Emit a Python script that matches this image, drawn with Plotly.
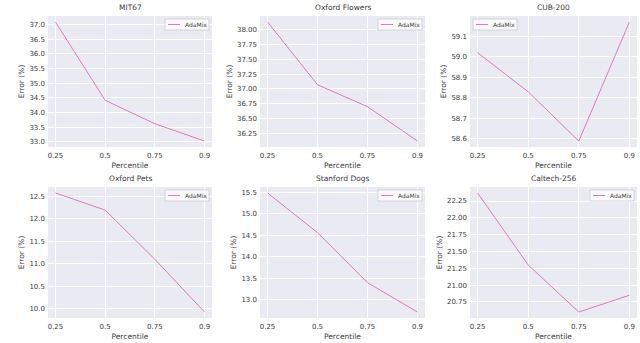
import plotly.graph_objects as go
from plotly.subplots import make_subplots

percentiles = ["0.25", "0.5", "0.75", "0.9"]
titles = ["MIT67", "Oxford Flowers", "CUB-200", "Oxford Pets", "Stanford Dogs", "Caltech-256"]
mit67 = [37.09, 34.42, 33.62, 33.03]
oxford_flowers = [38.13, 37.07, 36.70, 36.12]
cub200 = [59.02, 58.83, 58.59, 59.17]
oxford_pets = [12.57, 12.19, 11.10, 9.93]
stanford_dogs = [15.48, 14.56, 13.40, 12.72]
caltech256 = [22.37, 21.30, 20.60, 20.85]
series = [mit67, oxford_flowers, cub200, oxford_pets, stanford_dogs, caltech256]
series_name = "AdaMix"
dticks = [0.5, 0.25, 0.1, 0.5, 0.5, 0.25]
fmts = [".1f", ".2f", ".1f", ".1f", ".1f", ".2f"]
legend_left = [False, False, True, False, False, False]

W, H = 640, 343
xdom = [(48, 212), (260, 425), (470, 637)]
ydom = [(16, 147), (187, 318)]

fig = make_subplots(rows=2, cols=3)
TEXT = "#3c3c3c"
BG = "#EAEAF2"
COLOR = "#e377c2"

def px(v):
    return v / W

def py(v):
    return 1 - v / H

for i, (t, vals) in enumerate(zip(titles, series)):
    r, c = i // 3, i % 3
    xa = f"x{i+1}" if i else "x"
    ya = f"y{i+1}" if i else "y"
    fig.add_trace(go.Scatter(x=percentiles, y=vals, mode="lines", name=series_name,
                             line=dict(color=COLOR, width=1), showlegend=False),
                  row=r + 1, col=c + 1)
    x0, x1 = px(xdom[c][0]), px(xdom[c][1])
    y0, y1 = py(ydom[r][1]), py(ydom[r][0])
    lo, hi = min(vals), max(vals)
    pad = (hi - lo) * 0.05
    axk = "xaxis" if i == 0 else f"xaxis{i+1}"
    ayk = "yaxis" if i == 0 else f"yaxis{i+1}"
    fig.layout[axk].update(domain=[x0, x1], range=[-0.15, 3.15], type="category",
                           showgrid=True, gridcolor="white", gridwidth=1, zeroline=False,
                           ticks="", tickfont=dict(size=7, color=TEXT), anchor=ya,
                           ticklabelstandoff=3,
                           title=dict(text="Percentile", font=dict(size=7.5, color=TEXT), standoff=3))
    fig.layout[ayk].update(domain=[y0, y1], range=[lo - pad, hi + pad], dtick=dticks[i],
                           tickformat=fmts[i], showgrid=True, gridcolor="white", gridwidth=1,
                           zeroline=False, ticks="", tickfont=dict(size=7, color=TEXT), anchor=xa,
                           ticklabelstandoff=2,
                           title=dict(text="Error (%)", font=dict(size=7.5, color=TEXT), standoff=3))
    fig.add_annotation(text=t, x=(x0 + x1) / 2, y=y1, xref="paper", yref="paper",
                       xanchor="center", yanchor="bottom", yshift=2, showarrow=False,
                       font=dict(size=7.5, color=TEXT))
    # legend box (drawn in pixel offsets from the subplot corner)
    bw, bh = 44, 11
    top = ydom[r][0] + 3
    if legend_left[i]:
        left = xdom[c][0] + 3
    else:
        left = xdom[c][1] - 3 - bw
    fig.add_shape(type="rect", xref="paper", yref="paper",
                  x0=px(left), x1=px(left + bw), y0=py(top + bh), y1=py(top),
                  fillcolor="rgba(255,255,255,0.8)", line=dict(color="#cccccc", width=0.8),
                  layer="above")
    cy = top + bh / 2
    fig.add_shape(type="line", xref="paper", yref="paper",
                  x0=px(left + 3), x1=px(left + 15), y0=py(cy), y1=py(cy),
                  line=dict(color=COLOR, width=1), layer="above")
    fig.add_annotation(text=series_name, x=px(left + 18), y=py(cy), xref="paper", yref="paper",
                       xanchor="left", yanchor="middle", showarrow=False,
                       font=dict(size=6, color=TEXT))

fig.update_layout(width=W, height=H, margin=dict(l=0, r=0, t=0, b=0),
                  plot_bgcolor=BG, paper_bgcolor="white", showlegend=False,
                  font=dict(family="DejaVu Sans", color=TEXT))
fig.write_html("out.html")
